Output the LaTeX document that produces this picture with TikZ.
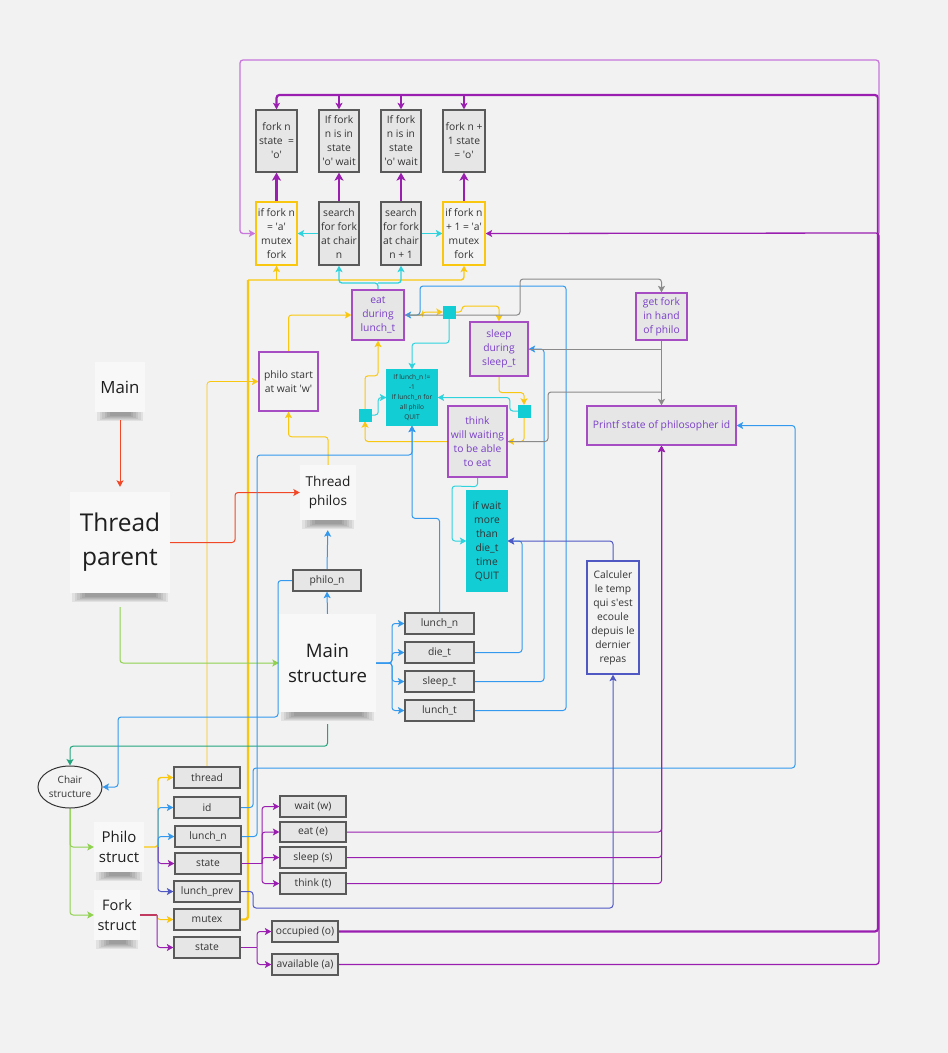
\documentclass[tikz,border=0pt]{standalone}
\usepackage{fontspec}
\setmainfont{Open Sans}
\usetikzlibrary{arrows.meta,shapes.geometric}
\pgfdeclarelayer{back}
\pgfdeclarelayer{conn}
\pgfsetlayers{back,conn,main}
\definecolor{bgc}{HTML}{F2F2F2}
\definecolor{boxb}{HTML}{5A5A5A}
\definecolor{boxf}{HTML}{E6E6E6}
\definecolor{lightf}{HTML}{F3F3F3}
\definecolor{stickf}{HTML}{F8F8F9}
\definecolor{txt}{HTML}{333333}
\definecolor{stxt}{HTML}{1E1E1E}
\definecolor{pbord}{HTML}{A64DC4}
\definecolor{ptxt}{HTML}{7A3EC8}
\definecolor{yel}{HTML}{FAC710}
\definecolor{cy}{HTML}{12CDD4}
\definecolor{cyl}{HTML}{2ED3DE}
\definecolor{blu}{HTML}{3399EE}
\definecolor{pur}{HTML}{9A1FB0}
\definecolor{purl}{HTML}{C877DA}
\definecolor{rdc}{HTML}{F24726}
\definecolor{grn}{HTML}{8FD14F}
\definecolor{tealc}{HTML}{22A47C}
\definecolor{ind}{HTML}{5058C4}
\definecolor{gry}{HTML}{8A8A8A}
\definecolor{fstub}{HTML}{C03A60}
\newcommand{\apos}{\textquotesingle}
\newcommand{\fsz}{\fontsize{10.3}{14}\selectfont}
\newcommand{\fsmall}{\fontsize{6.6}{10}\selectfont}
\newcommand{\bx}[7]{%
  \pgfmathsetmacro\bxcx{(#2+#4)/2}\pgfmathsetmacro\bxcy{(#3+#5)/2}%
  \pgfmathsetmacro\bxw{#4-#2}\pgfmathsetmacro\bxh{#5-#3}%
  \node[#6, minimum width=\bxw pt, minimum height=\bxh pt] (#1) at (\bxcx,\bxcy) {#7};}
\newcommand{\sticky}[7]{%
  \begin{pgfonlayer}{conn}
  \foreach \k in {0,...,5}
    \fill[black,opacity=0.065] (#2+2+2.5*\k,#5-2) rectangle (#4-2-2.5*\k,#5+9-\k);
  \end{pgfonlayer}
  \bx{#1}{#2}{#3}{#4}{#5}{stk,font=#6}{#7}}
\tikzset{
  gbox/.style={draw=boxb, fill=boxf, line width=1.3pt, inner sep=0pt, align=center, text=txt, font=\fsz},
  ybox/.style={gbox, draw=yel, fill=lightf},
  pbox/.style={gbox, draw=pbord, text=ptxt},
  pwbox/.style={gbox, draw=pbord, fill=lightf},
  cbox/.style={gbox, draw=cy, fill=cy, text=txt},
  ibox/.style={gbox, draw=ind, fill=lightf},
  sqbox/.style={draw=cy, fill=cy, inner sep=0pt},
  stk/.style={fill=stickf, inner sep=0pt, align=center, text=stxt},
  cn/.style={line width=1pt, rounded corners=3pt},
}
\begin{document}
\begin{tikzpicture}[x=1pt,y=-1pt,>={Stealth[length=6.5pt,width=7pt,inset=1.5pt]}]
\begin{pgfonlayer}{back}
\fill[bgc] (0,0) rectangle (948,1053);
\end{pgfonlayer}
\useasboundingbox (0,0) rectangle (948,1053);

% ---------- top rows
\bx{b1}{256}{110}{297}{172}{gbox}{fork n\\state\ \ =\\\apos o\apos}
\bx{b2}{319}{110}{359}{172}{gbox}{If fork\\n is in\\state\\\apos o\apos{} wait}
\bx{b3}{381}{110}{421}{172}{gbox}{If fork\\n is in\\state\\\apos o\apos{} wait}
\bx{b4}{443}{110}{485}{172}{gbox}{fork n +\\1 state\\= \apos o\apos}
\bx{c1}{256}{202}{297}{265}{ybox}{if fork n\\= \apos a\apos\\mutex\\fork}
\bx{c2}{319}{202}{359}{265}{gbox}{search\\for fork\\at chair\\n}
\bx{c3}{381}{202}{421}{265}{gbox}{search\\for fork\\at chair\\n + 1}
\bx{c4}{443}{202}{485}{265}{ybox}{if fork n\\+ 1 = \apos a\apos\\mutex\\fork}

% ---------- middle
\bx{eat}{352}{290}{404}{340}{pbox}{eat\\during\\lunch\_t}
\bx{pstart}{259}{352}{318}{411}{pwbox}{philo start\\at wait \apos w\apos}
\bx{sleep}{470}{322}{528}{376}{pbox}{sleep\\during\\sleep\_t}
\bx{think}{448}{406}{507}{477}{pbox}{think\\will waiting\\to be able\\to eat}
\bx{qbox}{387}{370}{437}{425}{cbox,font=\fsmall}{If lunch\_n !=\\-1\\If lunch\_n for\\all philo\\QUIT}
\bx{s1}{443}{306}{455}{318}{sqbox}{}
\bx{s2}{359}{409}{371}{421}{sqbox}{}
\bx{s3}{518}{405}{530}{417}{sqbox}{}
\bx{ifwait}{467}{491}{507}{591}{cbox}{if wait\\more\\than\\die\_t\\time\\QUIT}
\bx{getfork}{636}{293}{687}{340}{pbox}{get fork\\in hand\\of philo}
\bx{printf}{587}{406}{736}{445}{pbox}{Printf state of philosopher id}
\bx{calc}{587}{561}{639}{674}{ibox}{Calculer\\le temp\\qui s\apos est\\ecoule\\depuis le\\dernier\\repas}

% ---------- stickies
\sticky{main}{95}{362}{145}{412}{\fontsize{16.8}{22}\selectfont}{Main}
\sticky{tparent}{70}{492}{170}{593}{\fontsize{24.5}{34}\selectfont}{Thread\\parent}
\sticky{tphilos}{300}{465}{356}{520}{\fontsize{13.6}{19}\selectfont}{Thread\\philos}
\sticky{mainstruct}{279}{614}{376}{712}{\fontsize{18.6}{25}\selectfont}{Main\\structure}
\sticky{philo}{94}{822}{144}{872}{\fontsize{15}{20}\selectfont}{Philo\\struct}
\sticky{fork}{94}{890}{140}{940}{\fontsize{14.5}{20}\selectfont}{Fork\\struct}

% ---------- field boxes
\bx{philon}{293}{570}{361}{591}{gbox}{philo\_n}
\bx{mlunchn}{405}{613}{474}{634}{gbox}{lunch\_n}
\bx{mdiet}{405}{642}{474}{663}{gbox}{die\_t}
\bx{msleept}{405}{671}{474}{692}{gbox}{sleep\_t}
\bx{mluncht}{405}{700}{474}{721}{gbox}{lunch\_t}
\node[ellipse, draw=txt, fill=lightf, line width=1pt, minimum width=64pt, minimum height=42pt, inner sep=0pt, align=center, text=txt, font=\fontsize{10}{14}\selectfont] (chair) at (70,787) {Chair\\structure};
\bx{pthread}{174}{767}{240}{788}{gbox}{thread}
\bx{pid}{174}{797}{240}{818}{gbox}{id}
\bx{plunchn}{175}{826}{241}{847}{gbox}{lunch\_n}
\bx{pstate}{175}{853}{241}{874}{gbox}{state}
\bx{plunchprev}{174}{881}{240}{902}{gbox}{lunch\_prev}
\bx{fmutex}{174}{909}{240}{930}{gbox}{mutex}
\bx{fstate}{174}{937}{240}{958}{gbox}{state}
\bx{swait}{280}{796}{346}{817}{gbox}{wait (w)}
\bx{seat}{280}{822}{346}{842}{gbox}{eat (e)}
\bx{ssleep}{280}{847}{346}{868}{gbox}{sleep (s)}
\bx{sthink}{280}{873}{346}{894}{gbox}{think (t)}
\bx{occ}{272}{921}{338}{942}{gbox}{occupied (o)}
\bx{avail}{272}{954}{338}{975}{gbox}{available (a)}

% ---------- connectors
\begin{pgfonlayer}{conn}
\coordinate (ot) at (878,95);
\coordinate (ar) at (879,233);
\coordinate (ym) at (248,280);
\coordinate (ce) at (378,283);
\coordinate (mf) at (392,663);
\coordinate (pf) at (158,847);
\coordinate (ff) at (157,915);
\coordinate (sf) at (262,863.5);
\coordinate (ff2) at (257,947.5);

% purple thick C -> B
\foreach \a/\b in {c1/b1,c2/b2,c3/b3,c4/b4}
  \draw[pur, line width=2.4pt, -{Stealth[length=8pt,width=9pt,inset=2pt]}] (\a.north) -- (\b.south);
\draw[cyl, line width=1.8pt, ->] (c2.west) -- (c1.east);
\draw[cyl, line width=1.8pt, ->] (c3.east) -- (c4.west);

% occupied / available
\draw[pur, line width=2.2pt, rounded corners=3pt, ->] (occ.east) -| (ot) -| (b1.north);
\foreach \b in {b2,b3,b4}
  \draw[pur, line width=1.4pt, ->] (\b.north |- ot) -- (\b.north);
\draw[pur, cn, line width=1.3pt, ->] (avail.east) -| (ar) -- (c4.east);
\draw[purl, cn, line width=1.3pt, ->] (ar) -- (879,60) -- (240,60) |- (c1.west);

% mutex yellow
\draw[yel, line width=2.4pt, rounded corners=3pt] (fmutex.east) -| (ym);
\draw[yel, cn, line width=1.4pt, ->] (ym) -| (c4.south);
\draw[yel, line width=1.4pt, ->] (c1.south |- ym) -- (c1.south);

% eat -> search
\draw[cyl, cn, line width=1.3pt, ->] (eat.north) -- (ce) -| (c2.south);
\draw[cyl, cn, line width=1.3pt, ->] (ce) -| (c3.south);

% thread -> philo start
\draw[yel, cn, line width=0.8pt, ->] (pthread.north) |- (pstart.west);

% state machine
\draw[yel, cn, ->] (tphilos.north) -- ++(0,-28) -| (pstart.south);
\draw[yel, cn, ->] (pstart.north) |- (eat.west);
\draw[yel, cn, ->] (eat.east) -- ++(18,0) |- (s1.west);
\draw[yel, cn, ->] (s1.east) -- (462,312) -- (462,306) -| (sleep.north);
\draw[yel, cn, ->] (sleep.south) -- ++(0,16) -| (s3.north);
\draw[yel, cn, ->] (s3.south) |- (think.east);
\draw[yel, cn, ->] (think.west) -| (s2.south);
\draw[yel, cn, ->] (s2.north) -- ++(0,-33) -| (eat.south);
\draw[cyl, cn, ->] (s1.south) -- ++(0,25) -| (qbox.north);
\draw[cyl, cn, ->] (s3.west) -- ++(-8,0) |- (qbox.east);
\draw[cyl, cn, ->] (s2.east) -- ++(7,0) |- (qbox.west);
\draw[cyl, cn, ->] (think.south) -- ++(0,9) -- (452,486) |- (ifwait.west);

% red / green / teal
\draw[rdc, cn, ->, shorten <=8pt, shorten >=5pt] (main.south) -- (tparent.north);
\draw[rdc, cn, ->] (tparent.east) -- (235,542.5) |- (tphilos.west);
\draw[grn, cn, ->, shorten <=14pt] (tparent.south) |- (mainstruct.west);
\draw[tealc, cn, ->, shorten <=12pt] (mainstruct.south) -- ++(0,34) -| (chair.north);
\draw[grn, cn, ->] (chair.south) |- (philo.west);
\draw[grn, cn, ->] (chair.south) |- (fork.west);

% blue
\draw[blu, cn, ->, shorten <=-7pt] (mainstruct.north) -- (philon.south);
\draw[blu, cn, ->, shorten >=10pt] (philon.north) -- (tphilos.south);
\draw[blu, cn, ->] (philon.west) -- (278,580.5) |- (118,717) |- (chair.east);
\foreach \b in {mlunchn,mdiet,msleept,mluncht}
  \draw[blu, cn, ->] (mainstruct.east) -- (mf) |- (\b.west);
\draw[blu, cn, ->] (mlunchn.north) -- ++(0,-94) -| (qbox.south);
\draw[blu, cn, ->] (plunchn.east) -- (257,836.5) |- (412,455) -- (qbox.south);
\draw[blu, cn, ->] (pid.east) -- (253,807.5) |- (795,768) |- (printf.east);
\draw[blu, cn, ->] (mdiet.east) -| (522,541) -- (ifwait.east);
\draw[blu, cn, ->] (msleept.east) -| (544,349) -- (sleep.east);
\draw[blu, cn, ->] (mluncht.east) -| (566,286) -- (420,286) |- (eat.east);

% indigo
\draw[ind, cn, ->] (calc.north) |- (ifwait.east);
\draw[ind, cn, ->] (plunchprev.east) -- (253,891.5) |- (613,908) -- (calc.south);

% purple states -> printf
\foreach \s in {seat,ssleep,sthink}
  \draw[pur, cn, ->] (\s.east) -| (printf.south);

% gray
\draw[gry, cn, ->] (eat.east) -- (520,315) -- (520,279) -| (getfork.north);
\draw[gry, line width=1.6pt, ->] (getfork.south) -- (printf.north);
\draw[gry, cn] (sleep.east) -- (getfork.south |- sleep.east);
\draw[gry, cn] (think.east) -- (548,441.5) |- (661.5,392);

% philo fan
\draw[yel, cn, line width=1.4pt, ->] (philo.east) -- (pf) |- (pthread.west);
\draw[blu, cn, ->] (pf) |- (pid.west);
\draw[blu, cn, ->] (pf) |- (plunchn.west);
\draw[pur, cn, ->] (pf) |- (pstate.west);
\draw[ind, cn, ->] (pf) |- (plunchprev.west);
% fork fan
\draw[fstub, line width=1.2pt] (fork.east) -- (ff);
\draw[yel, cn, ->] (ff) |- (fmutex.west);
\draw[pur, cn, ->] (ff) |- (fstate.west);
% state fans
\draw[pur, line width=1.3pt] (pstate.east) -- (sf);
\foreach \s in {swait,seat,ssleep,sthink}
  \draw[pur, cn, ->] (sf) |- (\s.west);
\draw[pur, line width=1.3pt] (fstate.east) -- (ff2);
\draw[pur, cn, ->] (ff2) |- (occ.west);
\draw[pur, cn, ->] (ff2) |- (avail.west);
\end{pgfonlayer}
\end{tikzpicture}
\end{document}
